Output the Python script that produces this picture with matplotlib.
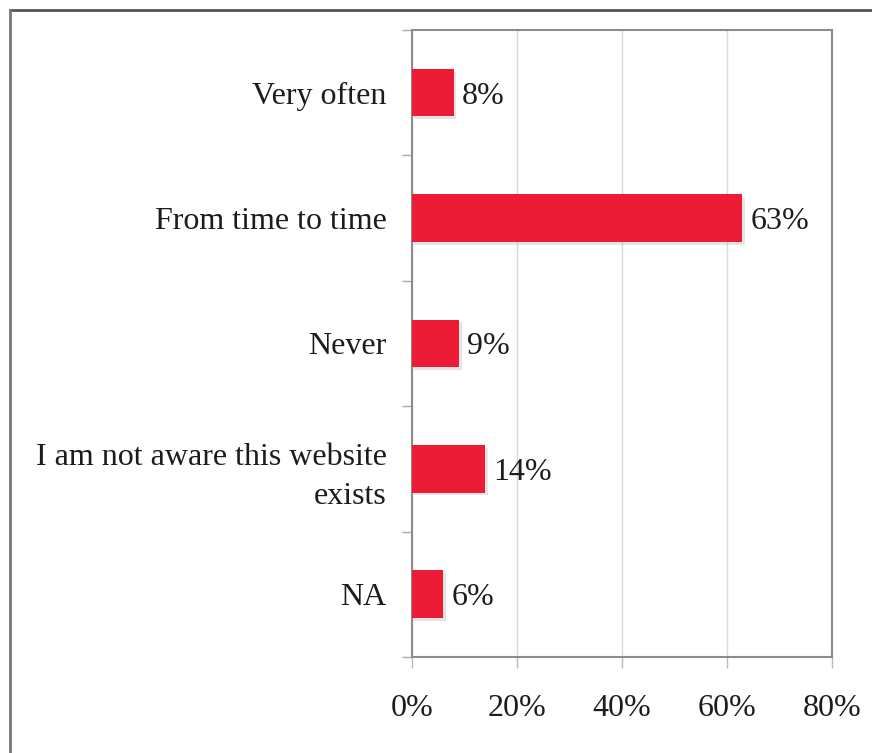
import numpy as np
import matplotlib.pyplot as plt
import matplotlib.patheffects as pe
from matplotlib.lines import Line2D

# Survey answers and their share of respondents
categories = ["Very often", "From time to time", "Never",
              "I am not aware this website\nexists", "NA"]
shares = [8, 63, 9, 14, 6]
x_ticks = [0, 20, 40, 60, 80]
x_tick_labels = ["0%", "20%", "40%", "60%", "80%"]

plt.rcParams['font.family'] = ['Liberation Serif', 'DejaVu Serif']
text_color = '#1c1c1c'
axis_gray = '#8c8c8c'
bar_red = '#ED1C36'
fsize = 23

fig = plt.figure(figsize=(8.72, 7.53), dpi=100)
fig.patch.set_facecolor('white')
ax = fig.add_axes([0.4721, 0.1275, 0.4817, 0.8327])

y = np.arange(len(categories))
bars = ax.barh(y, shares, height=0.38, color=bar_red, zorder=3)
for b in bars:
    b.set_path_effects([pe.SimplePatchShadow(offset=(2, -2), shadow_rgbFace='#aaaaaa', alpha=0.3),
                        pe.Normal()])

# value labels next to each bar
for yi, v in zip(y, shares):
    ax.text(v + 1.6, yi, f"{v}%", va='center_baseline', ha='left', fontsize=fsize, color=text_color)

ax.set_xlim(0, 80)
ax.set_ylim(len(categories) - 0.5, -0.5)

ax.set_xticks(x_ticks)
ax.set_xticklabels(x_tick_labels, fontsize=fsize, color=text_color)
ax.tick_params(axis='x', length=8, width=1, color='#bbbbbb', pad=19)
ax.xaxis.grid(True, color='#d9d9d9', linewidth=1, zorder=0)

# category labels on minor ticks, boundary marks on major ticks
ax.set_yticks(np.arange(-0.5, len(categories), 1.0))
ax.set_yticklabels([])
ax.tick_params(axis='y', which='major', length=7, width=1, color='#aaaaaa')
ax.set_yticks(y, minor=True)
ax.set_yticklabels(categories, minor=True, fontsize=fsize, color=text_color,
                   ha='right', linespacing=1.45)
ax.tick_params(axis='y', which='minor', length=0, pad=18)

for s in ax.spines.values():
    s.set_color(axis_gray)
    s.set_linewidth(1.5)

# frame around the whole chart (top and left edges visible)
fx, fy = 10 / 872, 1 - 10 / 753
fig.add_artist(Line2D([fx, 1.01], [fy, fy], color='#555555', linewidth=2, transform=fig.transFigure))
fig.add_artist(Line2D([fx, fx], [fy, -0.01], color='#777777', linewidth=2, transform=fig.transFigure))

fig.savefig('out.png', dpi=100)
